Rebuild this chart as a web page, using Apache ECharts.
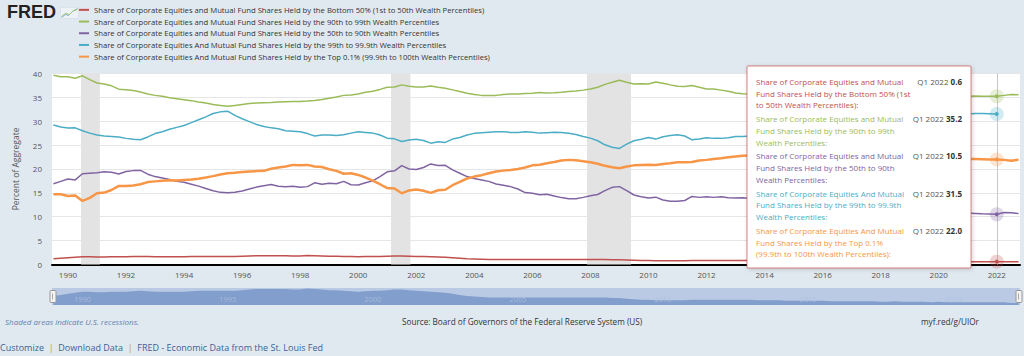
<!DOCTYPE html>
<html>
<head>
<meta charset="utf-8">
<script src="https://cdn.jsdelivr.net/npm/echarts@6/dist/echarts.min.js"></script>
<style>
html,body{margin:0;padding:0;background:#e1e9f0;}
#chart{width:1024px;height:356px;}
</style>
</head>
<body>
<div id="chart"></div>
<script>
// ---------------- DATA ----------------
// Quarterly observations, 1989 Q3 .. 2022 Q4 (134 quarters)
const firstYear = 1989, firstQuarter = 3, quarterCount = 134;
const quarterLabels = [];
for (let k = 0; k < quarterCount; k++) {
  const q0 = firstQuarter - 1 + k;
  quarterLabels.push((firstYear + Math.floor(q0 / 4)) + ' Q' + (q0 % 4 + 1));
}

const seriesNames = [
  'Share of Corporate Equities and Mutual Fund Shares Held by the Bottom 50% (1st to 50th Wealth Percentiles)',
  'Share of Corporate Equities and Mutual Fund Shares Held by the 90th to 99th Wealth Percentiles',
  'Share of Corporate Equities and Mutual Fund Shares Held by the 50th to 90th Wealth Percentiles',
  'Share of Corporate Equities And Mutual Fund Shares Held by the 99th to 99.9th Wealth Percentiles',
  'Share of Corporate Equities And Mutual Fund Shares Held by the Top 0.1% (99.9th to 100th Wealth Percentiles)'
];

const bottom50 = [
  1.2,1.3,1.4,1.5,1.6,1.6,1.55,1.55,1.6,1.6,1.6,1.65,1.7,1.65,1.6,1.6,1.6,1.6,1.6,1.65,1.7,1.7,1.7,1.7,1.7,1.7,1.75,1.8,1.85,1.85,1.85,1.85,1.85,1.8,
  1.8,1.9,1.85,1.8,1.75,1.75,1.7,1.65,1.6,1.65,1.7,1.7,1.75,1.8,1.8,1.75,1.7,1.65,1.6,1.55,1.5,1.4,1.3,1.2,1.15,1.1,1.05,1.05,1.05,1.05,1.05,1.05,1.05,1.05,
  1.05,1.05,1.05,1.05,1.05,1.05,1.05,1.05,1.05,1.0,1.0,0.95,0.9,0.85,0.85,0.8,0.8,0.8,0.8,0.8,0.85,0.85,0.85,0.85,0.85,0.85,0.85,0.85,
  0.85,0.8,0.8,0.8,0.8,0.75,0.75,0.75,0.75,0.75,0.75,0.7,0.7,0.7,0.7,0.7,0.7,0.7,0.65,0.65,0.7,0.65,0.65,0.65,0.65,0.6,0.65,0.6,0.6,0.6,0.6,
  0.6,0.6,0.6,0.6,0.6,0.55,0.55
];
const p90to99 = [
  39.6,39.3,39.3,39.0,39.5,38.7,38.0,37.8,37.4,36.7,36.6,36.4,36.1,35.7,35.4,35.2,34.9,34.7,34.5,34.3,34.0,33.8,33.5,33.3,33.1,33.3,33.5,33.7,33.8,33.85,33.9,34.0,34.05,34.1,
  34.1,34.2,34.35,34.55,34.8,35.05,35.4,35.5,35.7,36.05,36.25,36.65,37.1,37.15,37.6,37.3,37.15,37.15,37.35,37.1,36.9,36.55,36.2,35.85,35.6,35.4,35.35,35.4,35.6,35.7,35.7,35.8,35.85,36.0,
  35.9,35.95,36.05,36.2,36.3,36.5,36.75,37.1,37.7,38.15,38.55,38.15,37.8,37.85,37.8,38.2,37.95,37.6,37.3,37.25,37.45,37.1,36.75,36.75,36.5,36.25,35.9,35.75,
  35.7,35.6,35.6,35.5,35.5,35.4,35.4,35.3,35.4,35.3,35.4,35.3,35.2,35.2,35.1,35.1,35.0,35.0,34.9,35.0,34.9,35.1,35.0,34.9,34.9,34.8,35.2,35.0,34.9,35.1,35.2,
  35.25,35.2,35.2,35.2,35.4,35.6,35.55
];
const p50to90 = [
  16.9,17.4,17.9,17.7,19.0,19.1,19.2,19.4,19.3,18.95,19.45,19.65,19.7,18.9,18.4,18.1,17.8,17.4,17.2,16.8,16.4,15.9,15.45,15.1,15.0,15.1,15.4,15.8,16.2,16.5,16.75,16.4,16.3,16.4,
  16.15,16.3,17.1,16.8,17.0,16.9,17.4,16.7,16.65,17.1,17.5,18.4,19.4,19.6,20.7,20.0,19.9,20.3,21.05,20.7,20.75,19.8,19.1,18.4,18.0,17.7,17.4,16.85,16.6,16.3,15.8,15.05,14.9,14.6,
  14.7,14.35,14.0,13.75,13.75,14.05,14.4,14.65,15.45,16.15,16.3,15.45,14.55,14.2,13.9,14.1,13.5,13.25,13.25,13.4,14.25,14.05,14.2,14.05,14.2,13.95,13.9,13.95,
  13.8,13.7,13.6,13.6,13.4,13.3,13.2,13.1,13.2,13.0,12.9,12.8,12.6,12.5,12.3,12.2,12.0,11.9,11.8,11.9,12.0,11.9,11.7,11.6,11.5,11.3,11.6,11.3,11.1,10.9,10.8,
  10.7,10.6,10.55,10.5,10.9,10.85,10.65
];
const p99to999 = [
  29.2,28.8,28.55,28.6,28.0,27.5,27.1,26.9,26.8,26.7,26.4,26.2,26.1,26.7,27.4,27.8,28.3,28.7,29.1,29.7,30.3,30.9,31.6,31.95,32.1,31.2,30.5,29.9,29.3,28.9,28.6,28.4,28.0,27.9,
  27.8,27.4,26.9,27.1,27.1,27.0,27.15,27.5,27.8,27.65,27.5,27.1,26.45,26.3,25.75,26.05,26.2,25.95,25.4,25.7,25.55,26.25,26.6,27.1,27.45,27.6,27.7,27.8,27.8,27.65,27.65,27.8,27.7,27.5,
  27.6,27.7,27.65,27.45,27.2,26.8,26.45,25.9,25.05,24.55,24.3,25.2,25.9,26.2,26.6,26.25,26.75,27.0,27.15,26.9,26.1,26.25,26.55,26.4,26.4,26.55,26.8,26.8,
  26.9,27.0,27.2,27.1,27.4,27.6,27.8,27.9,27.7,28.0,27.9,28.2,28.5,28.7,29.0,29.2,29.4,29.6,29.8,29.7,29.5,29.3,29.8,30.0,30.2,30.5,30.0,30.6,31.0,31.2,31.5,
  31.6,31.6,31.55,31.5,null,null,null
];
const top01 = [
  14.7,14.7,14.35,14.45,13.3,13.95,14.9,15.05,15.6,16.45,16.45,16.55,16.8,17.25,17.4,17.55,17.65,17.6,17.7,17.8,17.95,18.2,18.5,18.85,19.1,19.2,19.35,19.45,19.55,19.6,20.05,20.3,20.5,20.85,
  20.8,20.85,20.5,20.4,19.95,19.6,19.0,19.1,18.75,18.2,17.55,16.8,16.0,15.9,14.9,15.5,15.7,15.45,15.0,15.55,15.65,16.6,17.3,18.0,18.4,18.7,19.1,19.45,19.65,19.8,20.0,20.3,20.75,20.9,
  21.2,21.45,21.75,21.9,21.8,21.6,21.4,21.1,20.65,20.35,20.15,20.5,20.75,20.85,20.9,20.85,21.05,21.2,21.4,21.4,21.45,21.75,21.9,22.1,22.25,22.45,22.6,22.75,
  22.8,22.8,22.9,22.9,22.8,22.9,22.8,22.7,22.8,22.9,22.7,22.6,22.6,22.7,22.8,22.7,22.6,22.5,22.5,22.4,22.5,22.6,22.4,22.3,22.4,22.2,22.5,22.3,22.2,22.1,22.1,
  22.1,22.05,22.0,22.0,21.9,21.7,21.95
];

const seriesColors = ['#c0504d', '#9bbb59', '#8064a2', '#4bacc6', '#f79646'];
const seriesWidths = [1.5, 1.5, 1.5, 1.5, 2.5];
const seriesValues = [bottom50, p90to99, p50to90, p99to999, top01];

const xTickYears = [1990,1992,1994,1996,1998,2000,2002,2004,2006,2008,2010,2012,2014,2016,2018,2020,2022];
const navigatorYears = [1990,1995,2000,2005,2010,2015,2020];
// recession periods (decimal years)
const recessions = [[1990.45, 1991.1], [2001.13, 2001.8], [2007.88, 2009.4], [2020.1, 2020.3]];

const hoverQuarter = '2022 Q1';
const tooltipLines = [
  ['Share of Corporate Equities and Mutual', 'Fund Shares Held by the Bottom 50% (1st', 'to 50th Wealth Percentiles):'],
  ['Share of Corporate Equities and Mutual', 'Fund Shares Held by the 90th to 99th', 'Wealth Percentiles:'],
  ['Share of Corporate Equities and Mutual', 'Fund Shares Held by the 50th to 90th', 'Wealth Percentiles:'],
  ['Share of Corporate Equities And Mutual', 'Fund Shares Held by the 99th to 99.9th', 'Wealth Percentiles:'],
  ['Share of Corporate Equities And Mutual', 'Fund Shares Held by the Top 0.1%', '(99.9th to 100th Wealth Percentiles):']
];

// ---------------- BUILD ----------------
function labelToYear(lab) {
  const p = lab.split(' Q');
  return Number(p[0]) + (Number(p[1]) - 1) * 0.25;
}
const xYears = quarterLabels.map(labelToYear);
const hoverIndex = quarterLabels.indexOf(hoverQuarter);
const hoverX = xYears[hoverIndex];
const X_MIN = 1989.45, X_MAX = 2022.8;

const FONT = '"Open Sans", "Noto Sans", sans-serif';

const series = seriesValues.map((vals, s) => {
  const ser = {
    name: seriesNames[s],
    type: 'line',
    xAxisIndex: 0, yAxisIndex: 0,
    data: vals.map((v, i) => [xYears[i], v]),
    showSymbol: false,
    symbol: 'none',
    connectNulls: false,
    lineStyle: { color: seriesColors[s], width: seriesWidths[s] },
    itemStyle: { color: seriesColors[s] },
    emphasis: { disabled: true },
    silent: true,
    z: 2,
    markPoint: {
      silent: true,
      symbol: 'circle',
      label: { show: false },
      animation: false,
      data: [
        { coord: [hoverX, vals[hoverIndex]], symbolSize: 14, itemStyle: { color: seriesColors[s], opacity: 0.25 } },
        { coord: [hoverX, vals[hoverIndex]], symbolSize: 4, itemStyle: { color: seriesColors[s], opacity: 1 } }
      ]
    }
  };
  if (s === 0) {
    ser.markArea = {
      silent: true,
      itemStyle: { color: '#e3e3e3' },
      data: recessions.map(r => [{ xAxis: r[0] }, { xAxis: r[1] }])
    };
    ser.markLine = {
      silent: true,
      symbol: ['none', 'none'],
      label: { show: false },
      lineStyle: { color: '#c8c8c8', width: 1, type: 'solid' },
      data: [{ xAxis: hoverX }],
      animation: false
    };
  }
  return ser;
});

// navigator: overview of the first series on its own small grid
series.push({
  name: 'navigator',
  type: 'line',
  xAxisIndex: 1, yAxisIndex: 1,
  data: bottom50.map((v, i) => [xYears[i], v]),
  showSymbol: false, symbol: 'none', silent: true,
  lineStyle: { width: 0, opacity: 0 },
  areaStyle: { color: '#819ecc', opacity: 1, origin: 'start' },
  emphasis: { disabled: true },
  z: 1
});

const chart = echarts.init(document.getElementById('chart'), null, { renderer: 'svg' });

const option = {
  animation: false,
  backgroundColor: '#e1e9f0',
  textStyle: { fontFamily: FONT },
  legend: {
    orient: 'vertical',
    left: 79,
    top: 4,
    padding: 0,
    itemWidth: 10,
    itemHeight: 2,
    itemGap: 0,
    icon: 'rect',
    selectedMode: false,
    textStyle: { fontFamily: FONT, fontSize: 7.7, color: '#333', lineHeight: 11.7, padding: 0 },
    data: seriesNames
  },
  grid: [
    { left: 52, right: 4, top: 73.4, bottom: 356 - 264.5,
      show: true, backgroundColor: '#ffffff', borderWidth: 0 },
    { left: 52, right: 4, top: 288, height: 17,
      show: true, backgroundColor: '#bacae5', borderWidth: 0 }
  ],
  xAxis: [{
    type: 'value', gridIndex: 0,
    min: X_MIN, max: X_MAX,
    axisLine: { show: true, onZero: false, lineStyle: { color: '#000', width: 2 } },
    axisTick: { show: false },
    splitLine: { show: false },
    axisLabel: {
      customValues: xTickYears,
      formatter: v => String(Math.round(v)),
      color: '#555', fontSize: 8, fontFamily: FONT, margin: 6
    }
  }, {
    type: 'value', gridIndex: 1,
    min: X_MIN, max: X_MAX,
    z: 5,
    axisLine: { show: false }, axisTick: { show: false }, splitLine: { show: false },
    axisLabel: {
      show: true, inside: true, customValues: navigatorYears,
      formatter: v => String(Math.round(v)),
      color: 'rgba(175,192,222,0.85)', fontSize: 7.5, fontFamily: FONT,
      margin: 2, align: 'left', padding: [0, 0, 0, 6]
    }
  }],
  yAxis: [{
    type: 'value', gridIndex: 0,
    min: 0, max: 40, interval: 5,
    name: 'Percent of Aggregate',
    nameLocation: 'middle',
    nameGap: 32,
    nameTextStyle: { color: '#555', fontSize: 8.5, fontFamily: FONT },
    axisLine: { show: false },
    axisTick: { show: false },
    splitLine: { show: true, lineStyle: { color: '#e6e6e6', width: 1 } },
    axisLabel: { color: '#555', fontSize: 8, fontFamily: FONT, margin: 10 }
  }, {
    type: 'value', gridIndex: 1,
    min: 0.35, max: 1.95,
    show: false, splitLine: { show: false }
  }],
  series: series
};
chart.setOption(option);

// ---------------- OVERLAYS (logo, tooltip, footer, navigator handles) ----------------
const TOP = 100;
const graphics = [];

// FRED logo
graphics.push({
  type: 'text', left: 7, top: 3, z: 50,
  style: { text: 'FRED', fill: '#222', font: 'bold 18px "Liberation Sans", Arial, sans-serif' }
});
graphics.push({
  type: 'group', left: 59, top: 6, z: 50,
  children: [
    { type: 'rect', z: 50, shape: { x: 0, y: 0, width: 18, height: 11 }, style: { fill: '#eef2f6', stroke: '#d0d8e0', lineWidth: 0.5 } },
    { type: 'polyline', z: 51, shape: { points: [[1, 10], [5, 7], [8, 8], [12, 4], [17, 1]] }, style: { stroke: '#7fb0d8', lineWidth: 1, fill: null } },
    { type: 'polyline', z: 51, shape: { points: [[1, 9], [5, 6], [9, 7], [13, 3], [17, 2]] }, style: { stroke: '#9cc46a', lineWidth: 1, fill: null } }
  ]
});

// Navigator handles
const gridLeftPx = 52, gridRightPx = 1020;
[gridLeftPx - 2, gridRightPx - 4].forEach(hx => {
  graphics.push({ type: 'rect', z: 60, shape: { x: hx, y: 290.5, width: 6, height: 12, r: 1 },
    style: { fill: '#f2f2f2', stroke: '#999', lineWidth: 1 } });
  graphics.push({ type: 'line', z: 61, shape: { x1: hx + 2.5, y1: 293.5, x2: hx + 2.5, y2: 299.5 },
    style: { stroke: '#999', lineWidth: 0.8 } });
});

// Tooltip box
const tipX = 747, tipY = 66, tipW = 224, tipH = 202;
const tipChildren = [{
  type: 'rect', z: TOP,
  shape: { x: 0, y: 0, width: tipW, height: tipH, r: 1 },
  style: {
    fill: '#ffffff', stroke: 'rgba(192,80,77,0.7)', lineWidth: 1,
    shadowBlur: 4, shadowColor: 'rgba(0,0,0,0.18)', shadowOffsetX: 1, shadowOffsetY: 1
  }
}];
const entryTop = 9.5, entryStep = 37.3;
tooltipLines.forEach((lines, s) => {
  const y = entryTop + s * entryStep;
  tipChildren.push({
    type: 'text', z: TOP + 1,
    style: {
      x: 9, y: y, text: lines.join('\n'),
      fill: seriesColors[s], font: '8px ' + FONT, lineHeight: 11.7, verticalAlign: 'top'
    }
  });
  const v = seriesValues[s][hoverIndex];
  tipChildren.push({
    type: 'text', z: TOP + 1,
    style: {
      x: 215, y: y, align: 'right', verticalAlign: 'top',
      text: '{a|Q1 2022 }{b|' + v.toFixed(1) + '}',
      rich: {
        a: { fill: '#555', font: '8px ' + FONT, lineHeight: 11.7 },
        b: { fill: '#333', font: 'bold 8px ' + FONT, lineHeight: 11.7 }
      }
    }
  });
});
graphics.push({ type: 'group', x: tipX, y: tipY, z: TOP, children: tipChildren });

// Footer
graphics.push({ type: 'text', x: 5, y: 317, z: 50,
  style: { text: 'Shaded areas indicate U.S. recessions.', fill: '#5f7fb0', font: 'italic 8px ' + FONT } });
graphics.push({ type: 'text', x: 402, y: 317, z: 50,
  style: { text: 'Source: Board of Governors of the Federal Reserve System (US)', fill: '#333', font: '8.2px ' + FONT } });
graphics.push({ type: 'text', x: 921, y: 317, z: 50,
  style: { text: 'myf.red/g/UIOr', fill: '#333', font: '8.2px ' + FONT } });
graphics.push({ type: 'text', x: 0, y: 343, z: 50,
  style: {
    text: '{l|Customize}{s|  |  }{l|Download Data}{s|  |  }{l|FRED - Economic Data from the St. Louis Fed}',
    rich: {
      l: { fill: '#3d5f96', font: '9px ' + FONT },
      s: { fill: '#c49a4a', font: '9px ' + FONT }
    }
  } });

chart.setOption({ graphic: graphics });
</script>
</body>
</html>
